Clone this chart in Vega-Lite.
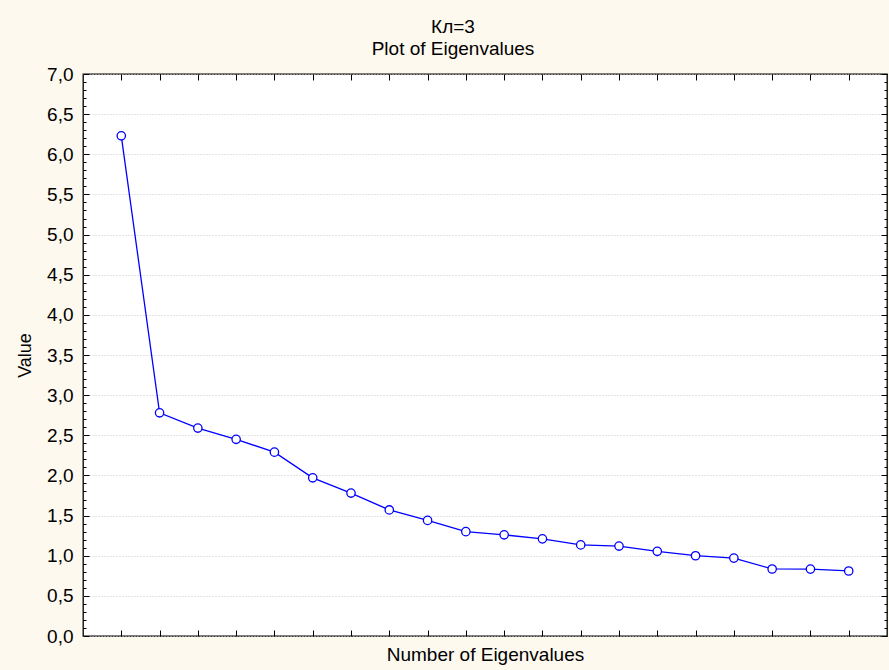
{
  "$schema": "https://vega.github.io/schema/vega-lite/v6.json",
  "autosize": "none",
  "width": 804,
  "height": 562,
  "padding": {"left": 83, "top": 74, "right": 2, "bottom": 34},
  "background": "#fdf9ef",
  "config": {
    "font": "Liberation Sans",
    "view": {"stroke": "#000000", "strokeWidth": 1.3, "fill": "#ffffff"},
    "axis": {"domain": false, "labelFont": "Liberation Sans", "titleFont": "Liberation Sans", "labelColor": "#000000", "titleColor": "#000000", "tickColor": "#000000", "titleFontWeight": "normal"}
  },
  "title": {
    "text": ["Кл=3", "Plot of Eigenvalues"],
    "fontSize": 19,
    "fontWeight": "normal",
    "color": "#000000",
    "font": "Liberation Sans",
    "anchor": "middle",
    "dx": -32,
    "offset": 6,
    "lineHeight": 22
  },
  "data": {
    "values": [
      {"n": 1, "value": 6.23},
      {"n": 2, "value": 2.78},
      {"n": 3, "value": 2.59},
      {"n": 4, "value": 2.45},
      {"n": 5, "value": 2.29},
      {"n": 6, "value": 1.97},
      {"n": 7, "value": 1.78},
      {"n": 8, "value": 1.57},
      {"n": 9, "value": 1.44},
      {"n": 10, "value": 1.30},
      {"n": 11, "value": 1.26},
      {"n": 12, "value": 1.21},
      {"n": 13, "value": 1.135},
      {"n": 14, "value": 1.12},
      {"n": 15, "value": 1.055},
      {"n": 16, "value": 1.0},
      {"n": 17, "value": 0.97},
      {"n": 18, "value": 0.835},
      {"n": 19, "value": 0.833},
      {"n": 20, "value": 0.81}
    ]
  },
  "layer": [
    {
      "mark": {"type": "line", "color": "#0000ff", "strokeWidth": 1.3},
      "encoding": {
        "x": {
          "field": "n", "type": "quantitative",
          "scale": {"domain": [0, 21], "nice": false, "zero": false},
          "axis": {
            "orient": "bottom",
            "values": [1,2,3,4,5,6,7,8,9,10,11,12,13,14,15,16,17,18,19,20],
            "labels": false, "grid": false, "tickSize": -6,
            "title": "Number of Eigenvalues", "titleFontSize": 19, "titlePadding": 9
          }
        },
        "y": {
          "field": "value", "type": "quantitative",
          "scale": {"domain": [0, 7], "nice": false},
          "axis": {
            "orient": "left",
            "values": [0,0.5,1,1.5,2,2.5,3,3.5,4,4.5,5,5.5,6,6.5,7],
            "labelExpr": "replace(format(datum.value, '.1f'), '.', ',')",
            "labelFontSize": 19, "labelPadding": 10, "ticks": false,
            "grid": true, "gridColor": "#c8c8c8", "gridDash": [1, 2], "gridWidth": 1,
            "title": "Value", "titleFontSize": 18, "titlePadding": 12
          }
        }
      }
    },
    {
      "mark": {"type": "point", "shape": "circle", "filled": true, "fill": "#ffffff", "stroke": "#0000ff", "strokeWidth": 1.3, "size": 70, "opacity": 1},
      "encoding": {
        "x": {"field": "n", "type": "quantitative", "scale": {"domain": [0, 21], "nice": false, "zero": false}, "axis": null},
        "y": {"field": "value", "type": "quantitative", "scale": {"domain": [0, 7], "nice": false}, "axis": null}
      }
    },
    {
      "mark": {"type": "point", "opacity": 0},
      "encoding": {
        "x": {
          "field": "n", "type": "quantitative",
          "scale": {"domain": [0, 21], "nice": false, "zero": false},
          "axis": {
            "orient": "top",
            "values": [1,2,3,4,5,6,7,8,9,10,11,12,13,14,15,16,17,18,19,20],
            "labels": false, "grid": false, "tickSize": -6, "title": null
          }
        },
        "y": {
          "field": "value", "type": "quantitative",
          "scale": {"domain": [0, 7], "nice": false},
          "axis": {
            "orient": "right",
            "values": [0,0.1,0.2,0.3,0.4,0.5,0.6,0.7,0.8,0.9,1,1.1,1.2,1.3,1.4,1.5,1.6,1.7,1.8,1.9,2,2.1,2.2,2.3,2.4,2.5,2.6,2.7,2.8,2.9,3,3.1,3.2,3.3,3.4,3.5,3.6,3.7,3.8,3.9,4,4.1,4.2,4.3,4.4,4.5,4.6,4.7,4.8,4.9,5,5.1,5.2,5.3,5.4,5.5,5.6,5.7,5.8,5.9,6,6.1,6.2,6.3,6.4,6.5,6.6,6.7,6.8,6.9,7],
            "labels": false, "grid": false, "title": null,
            "tickSize": {"condition": {"test": "abs(datum.value*2 - round(datum.value*2)) < 0.001", "value": -6}, "value": -3}
          }
        }
      }
    },
    {
      "mark": {"type": "point", "opacity": 0},
      "encoding": {
        "x": {"field": "n", "type": "quantitative", "scale": {"domain": [0, 21], "nice": false, "zero": false}, "axis": null},
        "y": {
          "field": "value", "type": "quantitative",
          "scale": {"domain": [0, 7], "nice": false},
          "axis": {
            "orient": "left",
            "values": [0,0.1,0.2,0.3,0.4,0.5,0.6,0.7,0.8,0.9,1,1.1,1.2,1.3,1.4,1.5,1.6,1.7,1.8,1.9,2,2.1,2.2,2.3,2.4,2.5,2.6,2.7,2.8,2.9,3,3.1,3.2,3.3,3.4,3.5,3.6,3.7,3.8,3.9,4,4.1,4.2,4.3,4.4,4.5,4.6,4.7,4.8,4.9,5,5.1,5.2,5.3,5.4,5.5,5.6,5.7,5.8,5.9,6,6.1,6.2,6.3,6.4,6.5,6.6,6.7,6.8,6.9,7],
            "labels": false, "grid": false, "title": null,
            "tickSize": {"condition": {"test": "abs(datum.value*2 - round(datum.value*2)) < 0.001", "value": -6}, "value": -3}
          }
        }
      }
    }
  ],
  "resolve": {"axis": {"x": "independent", "y": "independent"}}
}
